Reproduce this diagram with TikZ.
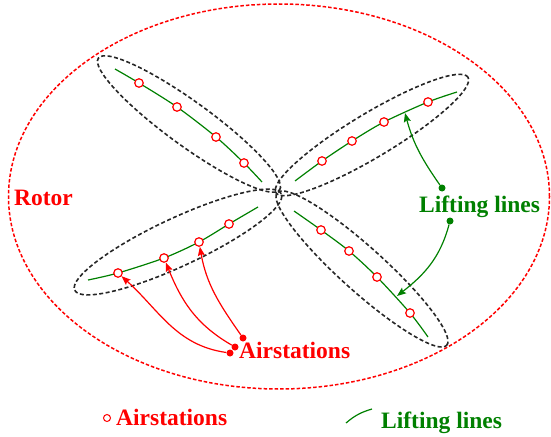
\documentclass[tikz,border=0pt]{standalone}
\usepackage{fontspec}
\setmainfont{Liberation Serif}
\usetikzlibrary{arrows.meta}
\definecolor{liftgreen}{RGB}{0,128,0}
\begin{document}
\begin{tikzpicture}[x=1pt,y=1pt,
  rotorline/.style={draw=red, line width=1.5pt, dash pattern=on 3.5pt off 2pt},
  bladeline/.style={draw=black!85, line width=1.6pt, dash pattern=on 4pt off 2.5pt},
  lift/.style={draw=liftgreen, line width=1.2pt},
  station/.style={circle, draw=red, line width=1.2pt, fill=white, inner sep=0pt, minimum size=8.5pt},
  reddot/.style={circle, fill=red, inner sep=0pt, minimum size=7pt},
  greendot/.style={circle, fill=liftgreen, inner sep=0pt, minimum size=7pt},
  redarrow/.style={draw=red, line width=1.2pt, -{Stealth[length=9pt,width=7pt,inset=1.5pt]}},
  greenarrow/.style={draw=liftgreen, line width=1.2pt, -{Stealth[length=9pt,width=7pt,inset=1.5pt]}},
  lbl/.style={font=\bfseries\fontsize{23.5}{27}\selectfont, inner sep=0pt, anchor=base west},
]
\useasboundingbox (0,0) rectangle (551,-436);

% rotor
\draw[rotorline] (279,-196.5) ellipse [x radius=270.5, y radius=192.5];

% blades
\draw[bladeline, rotate around={-36:(189,-124)}] (189,-124) ellipse [x radius=112, y radius=22];
\draw[bladeline, rotate around={31:(372,-135)}] (372,-135) ellipse [x radius=112, y radius=22];
\draw[bladeline, rotate around={25:(178,-242)}] (178,-242) ellipse [x radius=114, y radius=24];
\draw[bladeline, rotate around={-42:(362,-269)}] (362,-269) ellipse [x radius=114, y radius=22];

% lifting lines
\draw[lift] plot[smooth] coordinates {(115,-69) (139,-83) (177,-107) (216,-137) (244,-163) (262,-182)};
\draw[lift] plot[smooth] coordinates {(295,-181) (322,-161) (352,-141) (384,-122) (428,-102) (457,-92)};
\draw[lift] plot[smooth] coordinates {(88,-280) (118,-273) (164,-258) (199,-242) (229,-224) (258,-207)};
\draw[lift] plot[smooth] coordinates {(294,-211) (321,-230) (349,-251) (377,-277) (410,-313) (428,-337)};

% airstations
\node[station] (a1) at (139,-83) {};
\node[station] (a2) at (177,-107) {};
\node[station] (a3) at (216,-137) {};
\node[station] (a4) at (244,-163) {};
\node[station] (b1) at (322,-161) {};
\node[station] (b2) at (352,-141) {};
\node[station] (b3) at (384,-122) {};
\node[station] (b4) at (428,-102) {};
\node[station] (c1) at (118,-273) {};
\node[station] (c2) at (164,-258) {};
\node[station] (c3) at (199,-242) {};
\node[station] (c4) at (229,-224) {};
\node[station] (d1) at (321,-230) {};
\node[station] (d2) at (349,-251) {};
\node[station] (d3) at (377,-277) {};
\node[station] (d4) at (410,-313) {};

% targets on lifting lines
\coordinate (lt1) at (405,-113);
\coordinate (lt2) at (397,-296);

% labels
\node[lbl, text=red] (rotor) at (14,-205) {Rotor};
\node[lbl, text=red] (airlbl) at (239,-358) {Airstations};
\node[lbl, text=liftgreen] (liftlbl) at (419,-212) {Lifting lines};

% red pointers
\node[reddot] (r1) at (230,-353) {};
\node[reddot] (r2) at (235,-347) {};
\node[reddot] (r3) at (243,-338) {};
\draw[redarrow] (r1) to[out=172,in=-42] (c1);
\draw[redarrow] (r2) to[out=150,in=-68] (c2);
\draw[redarrow] (r3) to[out=125,in=-80] (c3);

% green pointers
\node[greendot] (g1) at (442,-188) {};
\node[greendot] (g2) at (450,-221) {};
\draw[greenarrow] (g1) to[out=125,in=-75] (lt1);
\draw[greenarrow] (g2) to[out=-105,in=38] (lt2);

% legend
\node[station, minimum size=7pt, line width=1pt] (legst) at (107,-418) {};
\node[lbl, text=red] (leglbl1) at (116,-425) {Airstations};
\coordinate (legl1) at (346,-423);
\coordinate (legl2) at (372,-409);
\draw[lift] (legl1) to[bend left=12] (legl2);
\node[lbl, text=liftgreen] (leglbl2) at (381,-428) {Lifting lines};
\end{tikzpicture}
\end{document}
